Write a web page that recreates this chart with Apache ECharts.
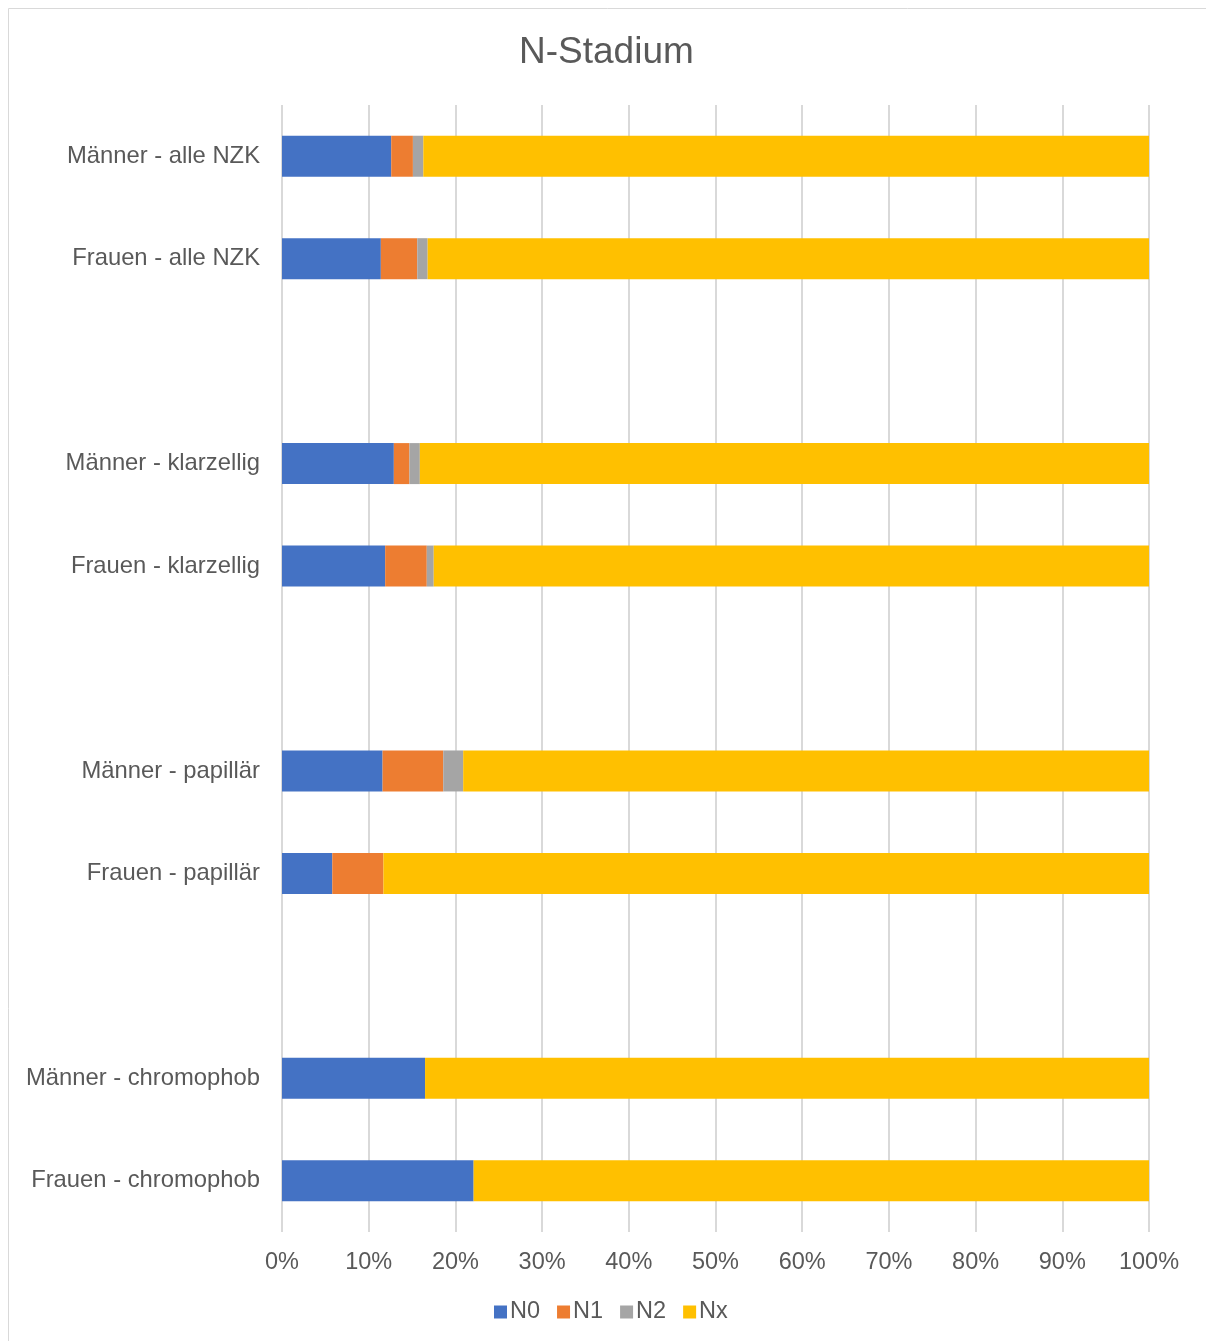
<!DOCTYPE html>
<html>
<head>
<meta charset="utf-8">
<script src="https://cdn.jsdelivr.net/npm/echarts@6/dist/echarts.min.js"></script>
<style>
html,body{margin:0;padding:0;background:#fff;}
#c{width:1206px;height:1341px;}
</style>
</head>
<body>
<div id="c"></div>
<script>
const categories = ['Männer - alle NZK','Frauen - alle NZK','','Männer - klarzellig','Frauen - klarzellig','','Männer - papillär','Frauen - papillär','','Männer - chromophob','Frauen - chromophob'];
const N0 = [12.6, 11.4, null, 12.9, 11.9, null, 11.6, 5.8, null, 16.5, 22.1];
const N1 = [2.5, 4.2, null, 1.8, 4.8, null, 7.0, 5.9, null, 0, 0];
const N2 = [1.2, 1.2, null, 1.2, 0.8, null, 2.3, 0, null, 0, 0];
const Nx = [83.7, 83.2, null, 84.1, 82.5, null, 79.1, 88.3, null, 83.5, 77.9];
const seriesNames = ['N0','N1','N2','Nx'];
const seriesColors = ['#4472C4','#ED7D31','#A5A5A5','#FFC000'];
const ticks = ['0%','10%','20%','30%','40%','50%','60%','70%','80%','90%','100%'];

const chart = echarts.init(document.getElementById('c'));
const txt = '#595959';
const font = 'Liberation Sans, Arial, sans-serif';
const data = [N0, N1, N2, Nx];
chart.setOption({
  animation: false,
  title: {
    text: 'N-Stadium', left: 514, top: 29,
    textStyle: {color: txt, fontSize: 37, fontWeight: 'normal', fontFamily: font}
  },
  graphic: [{type: 'rect', shape: {x: 8.5, y: 8.5, width: 1200, height: 1340}, style: {fill: 'none', stroke: '#d9d9d9', lineWidth: 1}, silent: true}],
  legend: {
    bottom: 12, left: 489, itemWidth: 13, itemHeight: 13, itemGap: 17,
    icon: 'rect',
    textStyle: {color: txt, fontSize: 23.5, fontFamily: font, padding: [0, 0, 0, -2]},
    data: seriesNames
  },
  grid: {left: 282, right: 57, top: 105, bottom: 109, containLabel: false},
  xAxis: {
    type: 'value', min: 0, max: 100, interval: 10,
    axisLine: {show: false}, axisTick: {show: false},
    splitLine: {lineStyle: {color: '#d9d9d9', width: 2}},
    axisLabel: {color: txt, fontSize: 23.5, fontFamily: font, margin: 19,
      formatter: v => ticks[Math.round(v / 10)]}
  },
  yAxis: {
    type: 'category', inverse: true, data: categories,
    axisLine: {show: false}, axisTick: {show: false},
    axisLabel: {color: txt, fontSize: 23.8, fontFamily: font, margin: 22}
  },
  series: seriesNames.map((n, i) => ({
    name: n, type: 'bar', stack: 'total', barWidth: 41,
    itemStyle: {color: seriesColors[i]},
    data: data[i]
  }))
});
</script>
</body>
</html>
